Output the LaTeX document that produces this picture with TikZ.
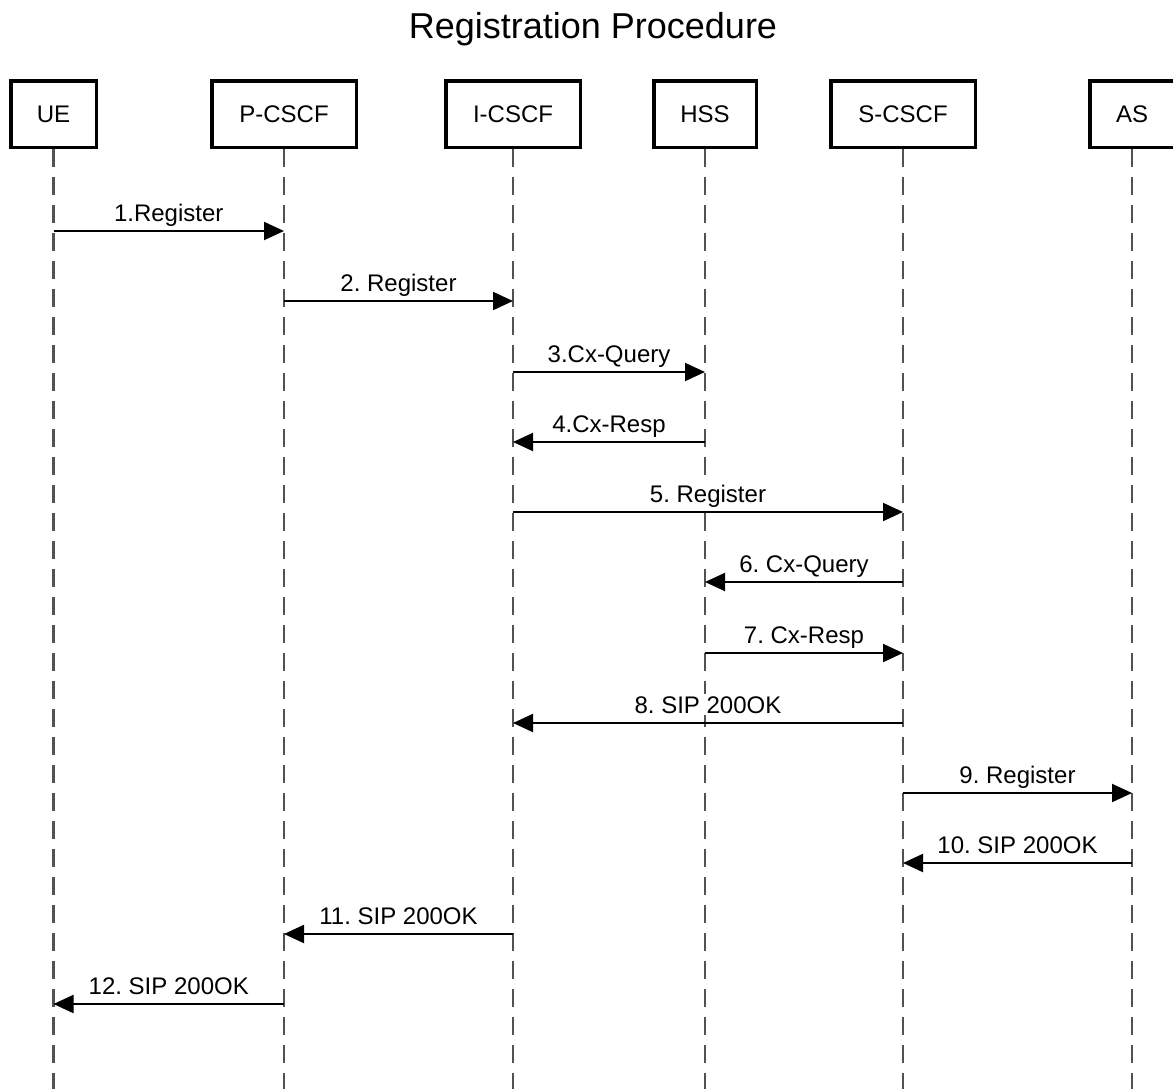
\documentclass[tikz,border=0pt]{standalone}
\usepackage{fontspec}
\setmainfont{Liberation Sans}
\usetikzlibrary{arrows.meta}
\frenchspacing
\begin{document}
\begin{tikzpicture}[x=1pt,y=-1pt,
  entity/.style={draw=black,line width=3.5pt,fill=white,minimum height=66.5pt,
    inner sep=0pt,font=\fontsize{24}{28}\selectfont,text=black},
  lifeline/.style={draw=black!68,line width=2.5pt,dash pattern=on 18pt off 10pt},
  msg/.style={draw=black,line width=2pt,-{Triangle[length=20pt,width=18pt]}},
  lbl/.style={anchor=base,yshift=10pt,inner sep=2pt,fill=white,
    font=\fontsize{24}{28}\selectfont,text=black}]
\clip (0,0) rectangle (1173,1088);
\fill[white] (0,0) rectangle (1173,1088);

% title
\node[anchor=base,font=\fontsize{36}{40}\selectfont,text=black] (title) at (593,38) {Registration Procedure};

% participants
\node[entity,minimum width=85.5pt]  (ue)    at (53.5,114)  {UE};
\node[entity,minimum width=144.5pt] (pcscf) at (284,114)   {P-CSCF};
\node[entity,minimum width=134.5pt] (icscf) at (513,114)   {I-CSCF};
\node[entity,minimum width=102.5pt] (hss)   at (705,114)   {HSS};
\node[entity,minimum width=144.5pt] (scscf) at (903,114)   {S-CSCF};
\node[entity,minimum width=84.5pt]  (as)    at (1132,114)  {AS};

% lifeline ends
\coordinate (bottom) at (0,1090);
\foreach \p in {ue,pcscf,icscf,hss,scscf,as}
  \draw[lifeline] (\p.south) -- (\p |- bottom);

% message rows
\coordinate (r1)  at (0,231);
\coordinate (r2)  at (0,301);
\coordinate (r3)  at (0,372);
\coordinate (r4)  at (0,442);
\coordinate (r5)  at (0,512);
\coordinate (r6)  at (0,582);
\coordinate (r7)  at (0,653);
\coordinate (r8)  at (0,723);
\coordinate (r9)  at (0,793);
\coordinate (r10) at (0,863);
\coordinate (r11) at (0,934);
\coordinate (r12) at (0,1004);

% messages
\draw[msg] (ue |- r1)     -- node[lbl]{1.Register}      (pcscf |- r1);
\draw[msg] (pcscf |- r2)  -- node[lbl]{2. Register}     (icscf |- r2);
\draw[msg] (icscf |- r3)  -- node[lbl]{3.Cx-Query}      (hss |- r3);
\draw[msg] (hss |- r4)    -- node[lbl]{4.Cx-Resp}       (icscf |- r4);
\draw[msg] (icscf |- r5)  -- node[lbl]{5. Register}     (scscf |- r5);
\draw[msg] (scscf |- r6)  -- node[lbl]{6. Cx-Query}     (hss |- r6);
\draw[msg] (hss |- r7)    -- node[lbl]{7. Cx-Resp}      (scscf |- r7);
\draw[msg] (scscf |- r8)  -- node[lbl]{8. SIP 200OK}    (icscf |- r8);
\draw[msg] (scscf |- r9)  -- node[lbl]{9. Register}     (as |- r9);
\draw[msg] (as |- r10)    -- node[lbl]{10. SIP 200OK}   (scscf |- r10);
\draw[msg] (icscf |- r11) -- node[lbl]{11. SIP 200OK}   (pcscf |- r11);
\draw[msg] (pcscf |- r12) -- node[lbl]{12. SIP 200OK}   (ue |- r12);
\end{tikzpicture}
\end{document}
